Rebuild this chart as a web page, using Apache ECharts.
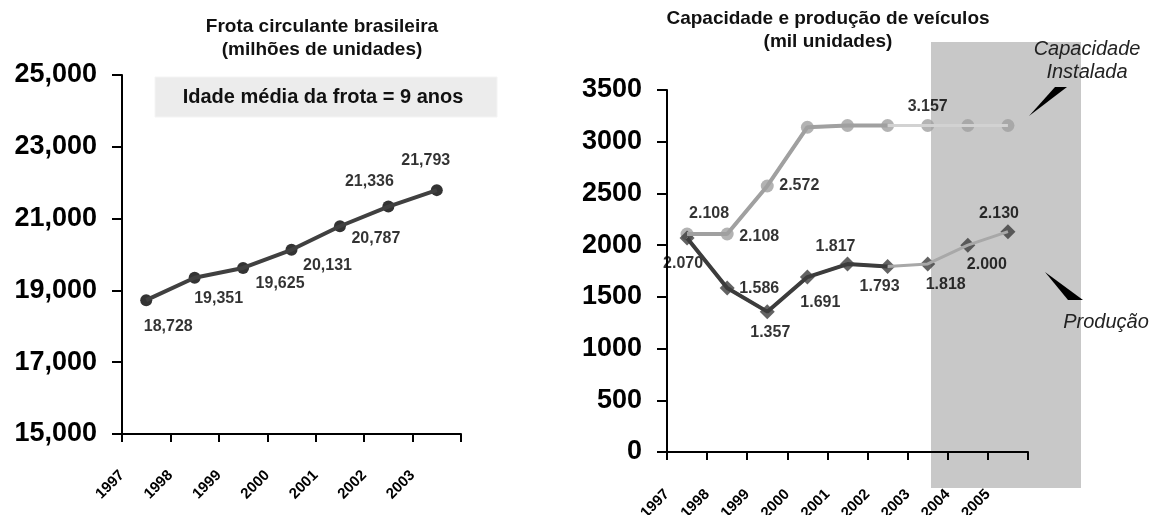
<!DOCTYPE html>
<html>
<head>
<meta charset="utf-8">
<script src="https://cdn.jsdelivr.net/npm/echarts@6/dist/echarts.min.js"></script>
<style>
    html, body { margin: 0; padding: 0; background: #fff; }
    #main { width: 1150px; height: 515px; }
</style>
</head>
<body>
<div id="main"></div>
<script>
    "use strict";
    // frota circulante
    var frotaYears = ["1997", "1998", "1999", "2000", "2001", "2002", "2003"];
    var frotaValues = [18728, 19351, 19625, 20131, 20787, 21336, 21793];
    var frotaTicks = [15000, 17000, 19000, 21000, 23000, 25000];

    // capacidade e producao
    var prodYears = ["1997", "1998", "1999", "2000", "2001", "2002", "2003", "2004", "2005"];
    var capacidade = [2108, 2108, 2572, 3140, 3157, 3157, 3157, 3157, 3157];
    var producao = [2070, 1586, 1357, 1691, 1817, 1793, 1818, 2000, 2130];
    var capTicks = [0, 500, 1000, 1500, 2000, 2500, 3000, 3500];
    var capLabeled = [true, true, true, false, false, false, true, false, false];
    var lightFrom = 5; // a partir de 2002 a linha fica mais clara

    var font = "'Liberation Sans', Arial, sans-serif";

    // onde cada rotulo fica em relacao ao ponto
    var frotaLabelOffset = [[22, 26], [24, 21], [37, 16], [36, 16], [36, 12], [-19, -25], [-11, -30]];
    var prodLabelOffset = [[-4, 26], [32, 1], [3, 21], [13, 25], [-12, -17], [-8, 20], [18, 21], [19, 19], [-9, -18]];
    var capLabelOffset = [[22, -20], [32, 3], [32, 0], [0, 0], [0, 0], [0, 0], [0, -19], [0, 0], [0, 0]];

    function dotted(v) {
        return String(v).replace(/(\d)(\d{3})$/, "$1.$2");
    }
    function upTo(arr, n) {
        return arr.map(function (v, i) { return i <= n ? v : "-"; });
    }

    var chart = echarts.init(document.getElementById("main"));

    var labelStyle = { color: "#000", fontFamily: font, fontWeight: "bold", fontSize: 16 };

    function dataAxis(grid, cats) {
        return {
            type: "category", gridIndex: grid, position: "bottom", data: cats, boundaryGap: true,
            axisLine: { lineStyle: { color: "#000", width: 2 } },
            axisTick: { show: true, length: 8, lineStyle: { color: "#000", width: 2 } },
            axisLabel: { show: false }
        };
    }
    function labelAxis(grid, cats, margin) {
        return {
            type: "category", gridIndex: grid, position: "bottom", data: cats.concat([""]), boundaryGap: false,
            axisLine: { show: false }, axisTick: { show: false },
            axisLabel: { rotate: 45, margin: margin, interval: 0, color: "#000",
                fontFamily: font, fontWeight: "bold", fontSize: 15 }
        };
    }
    function valueAxis(grid, ticks, fmt) {
        return {
            type: "value", gridIndex: grid,
            min: ticks[0], max: ticks[ticks.length - 1], interval: ticks[1] - ticks[0],
            axisLine: { show: true, lineStyle: { color: "#000", width: 2 } },
            axisTick: { show: true, length: 10, lineStyle: { color: "#000", width: 2 } },
            splitLine: { show: false },
            axisLabel: { margin: 25, color: "#000", fontFamily: font, fontWeight: "bold", fontSize: 27, formatter: fmt }
        };
    }

    var option = {
        animation: false,
        backgroundColor: "#fff",
        grid: [
            { left: 122, top: 75, width: 339, height: 359, outerBoundsMode: "none" },
            { left: 667, top: 90, width: 361, height: 362, outerBoundsMode: "none" }
        ],
        xAxis: [
            dataAxis(0, frotaYears), labelAxis(0, frotaYears, 39),
            dataAxis(1, prodYears), labelAxis(1, prodYears, 40)
        ],
        yAxis: [
            valueAxis(0, frotaTicks, function (v) { return v.toLocaleString("en-US"); }),
            valueAxis(1, capTicks, function (v) { return String(v); })
        ],
        graphic: [
            { type: "rect", z: -10, shape: { x: 931, y: 42, width: 150, height: 446 }, style: { fill: "#c8c8c8" } },
            { type: "rect", shape: { x: 155, y: 77, width: 342, height: 40 }, style: { fill: "#ececec", stroke: "#f4f4f4" } },
            { type: "text", style: { text: "Idade média da frota = 9 anos", x: 323, y: 97, textAlign: "center",
                textVerticalAlign: "middle", font: "bold 20px " + font, fill: "#111" } },
            { type: "text", style: { text: "Frota circulante brasileira\n(milhões de unidades)", x: 322, y: 38.5,
                textAlign: "center", textVerticalAlign: "middle", lineHeight: 23, font: "bold 19px " + font, fill: "#111" } },
            { type: "text", style: { text: "Capacidade e produção de veículos\n(mil unidades)", x: 828, y: 30.5,
                textAlign: "center", textVerticalAlign: "middle", lineHeight: 23, font: "bold 19px " + font, fill: "#111" } },
            { type: "text", style: { text: "Capacidade\nInstalada", x: 1087, y: 60.5, textAlign: "center",
                textVerticalAlign: "middle", lineHeight: 23, font: "italic 20px " + font, fill: "#222" } },
            { type: "text", style: { text: "Produção", x: 1106, y: 322, textAlign: "center",
                textVerticalAlign: "middle", font: "italic 20px " + font, fill: "#222" } },
            { type: "polygon", shape: { points: [[1029, 116], [1055, 87], [1067, 87]] }, style: { fill: "#000" } },
            { type: "polygon", shape: { points: [[1045, 272], [1068, 300], [1083, 300]] }, style: { fill: "#000" } }
        ],
        series: [
            {
                type: "line", xAxisIndex: 0, yAxisIndex: 0, data: frotaValues, symbol: "none",
                lineStyle: { color: "#404040", width: 4 }
            },
            {
                type: "scatter", xAxisIndex: 0, yAxisIndex: 0, symbolSize: 12, itemStyle: { color: "#000" },
                data: frotaValues.map(function (v, i) {
                    return { value: v, label: { offset: frotaLabelOffset[i] } };
                }),
                label: Object.assign({ show: true, position: "inside",
                    formatter: function (p) { return p.value.toLocaleString("en-US"); } }, labelStyle)
            },
            // capacidade
            {
                type: "line", xAxisIndex: 2, yAxisIndex: 1, data: capacidade, symbol: "none",
                lineStyle: { color: "#d2d2d2", width: 3 }
            },
            {
                type: "line", xAxisIndex: 2, yAxisIndex: 1, data: upTo(capacidade, lightFrom), symbol: "none",
                lineStyle: { color: "#a0a0a0", width: 4 }
            },
            // producao
            {
                type: "line", xAxisIndex: 2, yAxisIndex: 1, data: producao, symbol: "none",
                lineStyle: { color: "#a8a8a8", width: 3 }
            },
            {
                type: "line", xAxisIndex: 2, yAxisIndex: 1, data: upTo(producao, lightFrom), symbol: "none",
                lineStyle: { color: "#3c3c3c", width: 4 }
            },
            {
                type: "scatter", xAxisIndex: 2, yAxisIndex: 1, symbolSize: 13, itemStyle: { color: "#a0a0a0" },
                data: capacidade.map(function (v, i) {
                    return { value: v, label: { show: capLabeled[i], offset: capLabelOffset[i] } };
                }),
                label: Object.assign({ position: "inside", formatter: function (p) { return dotted(p.value); } }, labelStyle)
            },
            {
                type: "scatter", xAxisIndex: 2, yAxisIndex: 1, symbol: "diamond", symbolSize: 15,
                itemStyle: { color: "#3c3c3c" },
                data: producao.map(function (v, i) {
                    return { value: v, label: { offset: prodLabelOffset[i] } };
                }),
                label: Object.assign({ show: true, position: "inside", formatter: function (p) { return dotted(p.value); } }, labelStyle)
            }
        ]
    };

    chart.setOption(option);
</script>
</body>
</html>
